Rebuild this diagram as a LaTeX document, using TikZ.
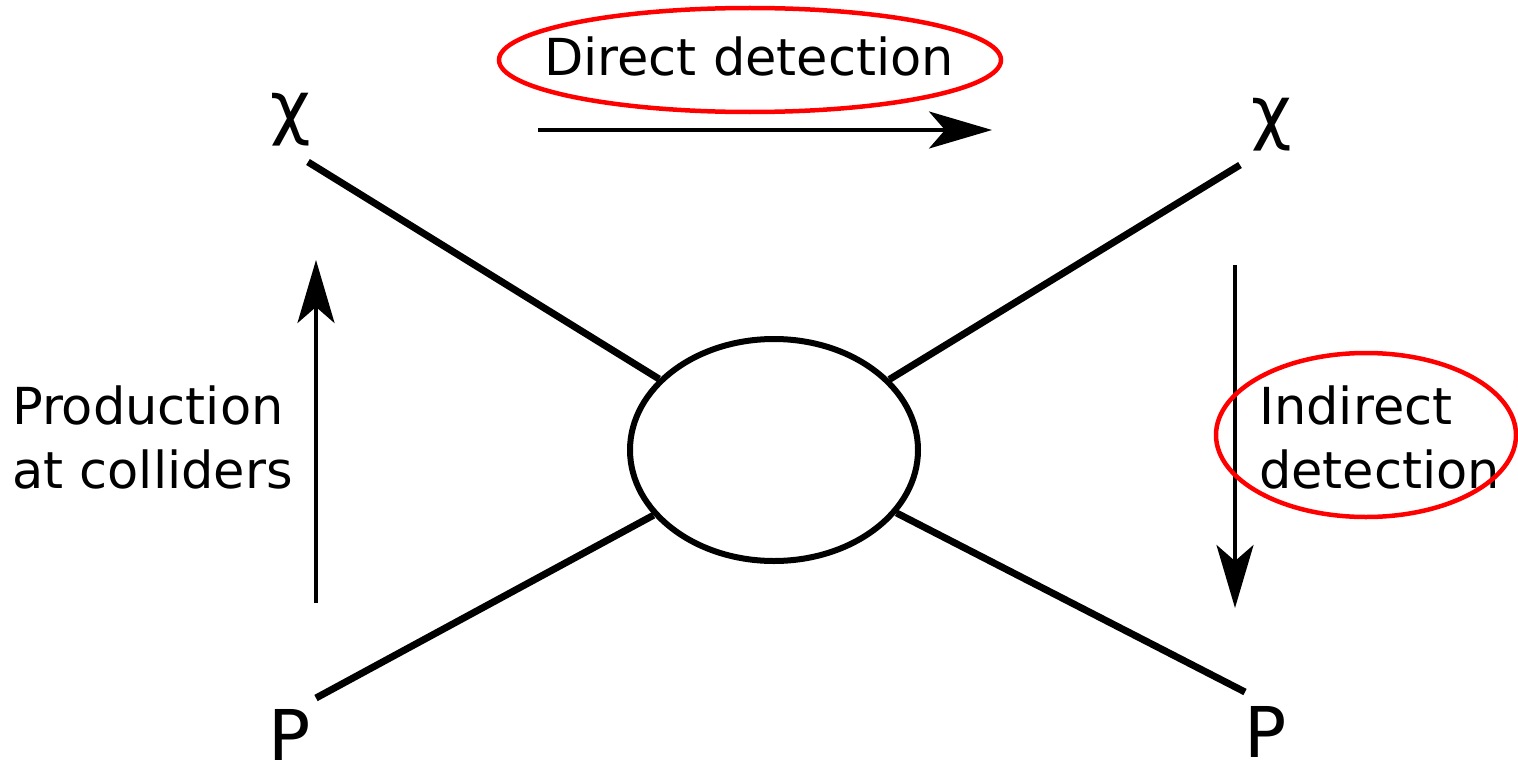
\documentclass[tikz,border=0pt]{standalone}
\usepackage{fontspec}
\setmainfont{DejaVu Sans}
\usetikzlibrary{arrows.meta,shapes.geometric}
\tikzset{
  leg/.style={line width=7pt},
  flow/.style={line width=3.5pt,-{Stealth[length=63pt,width=37pt,inset=16pt]}},
  label/.style={inner sep=0pt,font=\fontsize{51}{64}\selectfont},
  particle/.style={inner sep=0pt,anchor=base,font=\fontsize{70}{84}\selectfont},
  mark ring/.style={draw=red,line width=4.5pt,ellipse,inner sep=0pt},
}
\begin{document}
\begin{tikzpicture}[x=1pt,y=-1pt]
\useasboundingbox (0,0) rectangle (1518,768);

% interaction blob
\node[draw,ellipse,line width=6pt,minimum width=288pt,minimum height=222pt,inner sep=0pt] (blob) at (774,450) {};

% particle labels
\node[particle] (chiL) at (291,131) {χ};
\node[particle] (chiR) at (1272,136) {χ};
\node[particle] (pL) at (290,760) {P};
\node[particle] (pR) at (1266,757) {P};

% free ends of the four legs
\coordinate (tl) at (308,162);
\coordinate (tr) at (1240,165);
\coordinate (bl) at (316,698);
\coordinate (br) at (1245,692);

\draw[leg] (tl) -- (blob);
\draw[leg] (tr) -- (blob);
\draw[leg] (bl) -- (blob);
\draw[leg] (br) -- (blob);

% process arrows
\coordinate (dA) at (538,130);
\coordinate (dB) at (992,130);
\coordinate (iA) at (1235,265);
\coordinate (iB) at (1235,608);
\coordinate (pA) at (316,603);
\coordinate (pB) at (316,260);
\draw[flow] (dA) -- (dB);
\draw[flow] (iA) -- (iB);
\draw[flow] (pA) -- (pB);

% channel names (base anchor sits on the last line)
\node[label,anchor=base west] (direct) at (544,75) {Direct detection};
\node[label,anchor=base west,align=left] (indirect) at (1259,488) {Indirect\\detection};
\node[label,anchor=base west,align=left] (prod) at (12,488) {Production\\at colliders};

% red highlight rings
\node[mark ring,minimum width=502pt,minimum height=104pt] (ringD) at (750,60) {};
\node[mark ring,minimum width=300pt,minimum height=164pt] (ringI) at (1366,435) {};
\end{tikzpicture}
\end{document}
